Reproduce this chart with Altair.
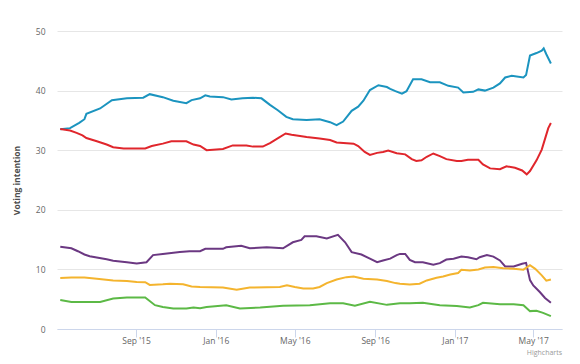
import altair as alt
import pandas as pd

con_dates = ["2015-05-08","2015-05-23","2015-06-06","2015-06-14","2015-06-17","2015-07-08","2015-07-26","2015-08-18",
             "2015-09-12","2015-09-22","2015-10-12","2015-10-28","2015-11-17","2015-11-25","2015-12-08","2015-12-16",
             "2015-12-23","2016-01-12","2016-01-25","2016-02-11","2016-02-27","2016-03-11","2016-03-24","2016-04-05",
             "2016-04-18","2016-04-28","2016-05-19","2016-06-08","2016-06-24","2016-07-04","2016-07-14","2016-07-27",
             "2016-08-06","2016-08-14","2016-08-24","2016-09-06","2016-09-19","2016-09-24","2016-10-02","2016-10-12",
             "2016-10-19","2016-10-29","2016-11-11","2016-11-24","2016-12-09","2016-12-22","2017-01-06","2017-01-14",
             "2017-01-29","2017-02-06","2017-02-16","2017-03-01","2017-03-11","2017-03-19","2017-03-29","2017-04-16",
             "2017-04-20","2017-04-26","2017-05-01","2017-05-06","2017-05-14","2017-05-17","2017-05-21","2017-05-28"]
con_values = [33.5,33.7,34.6,35.2,36.1,37.0,38.4,38.7,
              38.8,39.4,38.9,38.3,37.9,38.4,38.7,39.2,
              39.0,38.9,38.5,38.7,38.8,38.7,37.6,36.7,
              35.6,35.2,35.05,35.2,34.7,34.2,34.8,36.6,
              37.3,38.3,40.1,40.9,40.6,40.3,39.9,39.5,
              39.9,41.9,41.9,41.4,41.4,40.8,40.5,39.7,
              39.8,40.2,40.0,40.5,41.2,42.2,42.5,42.2,
              42.6,45.9,46.1,46.3,46.7,47.1,46.1,44.55]

lab_dates = ["2015-05-08","2015-05-23","2015-06-02","2015-06-11","2015-06-17","2015-07-03","2015-07-18","2015-07-28",
             "2015-08-13","2015-09-15","2015-09-25","2015-10-12","2015-10-25","2015-11-17","2015-11-28","2015-12-08",
             "2015-12-18","2016-01-12","2016-01-27","2016-02-17","2016-02-27","2016-03-13","2016-03-24","2016-04-06",
             "2016-04-17","2016-04-26","2016-05-09","2016-05-19","2016-06-08","2016-06-24","2016-07-04","2016-07-30",
             "2016-08-06","2016-08-16","2016-08-24","2016-09-04","2016-09-13","2016-09-21","2016-10-04","2016-10-17",
             "2016-10-27","2016-11-03","2016-11-11","2016-11-19","2016-11-29","2016-12-09","2016-12-19","2017-01-04",
             "2017-01-11","2017-01-21","2017-02-06","2017-02-13","2017-02-24","2017-03-11","2017-03-21","2017-04-03",
             "2017-04-14","2017-04-21","2017-04-26","2017-05-06","2017-05-14","2017-05-19","2017-05-24","2017-05-28"]
lab_values = [33.55,33.3,32.9,32.5,32.05,31.5,30.95,30.5,
              30.3,30.3,30.7,31.1,31.5,31.5,30.95,30.7,
              30.0,30.2,30.8,30.8,30.6,30.6,31.2,32.05,
              32.8,32.6,32.4,32.2,31.95,31.7,31.3,31.1,
              30.7,29.7,29.2,29.55,29.7,29.95,29.5,29.3,
              28.5,28.2,28.3,28.9,29.45,29.0,28.5,28.2,
              28.2,28.4,28.4,27.6,26.95,26.8,27.3,27.05,
              26.6,25.95,26.5,28.3,30.1,31.9,33.7,34.55]

ukip_dates = ["2015-05-08","2015-05-25","2015-06-04","2015-06-14","2015-06-22","2015-07-18","2015-07-28","2015-08-18",
              "2015-09-02","2015-09-17","2015-09-27","2015-10-12","2015-11-07","2015-11-22","2015-12-08","2015-12-16",
              "2016-01-12","2016-01-17","2016-02-09","2016-02-22","2016-03-19","2016-04-13","2016-04-28","2016-05-11",
              "2016-05-16","2016-06-03","2016-06-19","2016-07-06","2016-07-17","2016-07-27","2016-08-11","2016-08-24",
              "2016-09-04","2016-09-13","2016-09-24","2016-10-04","2016-10-09","2016-10-17","2016-10-24","2016-11-01",
              "2016-11-13","2016-11-29","2016-12-09","2016-12-19","2016-12-30","2017-01-11","2017-01-21","2017-02-03",
              "2017-02-08","2017-02-19","2017-03-01","2017-03-11","2017-03-19","2017-04-01","2017-04-14","2017-04-20",
              "2017-04-26","2017-05-01","2017-05-11","2017-05-19","2017-05-28"]
ukip_values = [13.8,13.55,13.05,12.5,12.2,11.7,11.45,11.2,
               11.0,11.2,12.4,12.6,12.9,13.05,13.05,13.45,
               13.45,13.7,13.95,13.55,13.7,13.55,14.55,14.95,
               15.55,15.55,15.2,15.8,14.55,12.9,12.5,11.8,
               11.2,11.5,11.8,12.4,12.6,12.6,11.6,11.2,
               11.2,10.8,11.05,11.65,11.8,12.15,12.05,11.7,
               12.05,12.4,12.15,11.5,10.5,10.5,10.95,11.1,
               8.2,7.3,6.2,5.2,4.4]

ld_dates = ["2015-05-08","2015-05-25","2015-06-14","2015-07-03","2015-07-28","2015-08-18","2015-09-02","2015-09-15",
            "2015-09-22","2015-10-12","2015-10-23","2015-11-12","2015-11-25","2015-12-08","2016-01-12","2016-02-02",
            "2016-02-22","2016-03-19","2016-04-08","2016-04-19","2016-05-01","2016-05-14","2016-05-29","2016-06-08",
            "2016-06-19","2016-07-04","2016-07-19","2016-07-30","2016-08-14","2016-09-04","2016-09-19","2016-10-02",
            "2016-10-09","2016-10-24","2016-11-08","2016-11-19","2016-12-04","2016-12-14","2016-12-25","2017-01-06",
            "2017-01-11","2017-01-24","2017-02-06","2017-02-16","2017-03-01","2017-03-16","2017-04-01","2017-04-16",
            "2017-04-26","2017-05-04","2017-05-14","2017-05-21","2017-05-28"]
ld_values = [8.55,8.65,8.65,8.45,8.15,8.05,7.9,7.85,
             7.4,7.5,7.6,7.5,7.15,7.05,6.95,6.6,
             6.95,7.0,7.05,7.35,7.05,6.8,6.8,7.05,
             7.7,8.3,8.7,8.8,8.45,8.3,8.05,7.7,
             7.6,7.45,7.6,8.15,8.6,8.8,9.15,9.4,
             9.95,9.8,10.0,10.3,10.4,10.2,10.1,9.95,
             10.7,10.1,9.0,8.1,8.3]

grn_dates = ["2015-05-08","2015-05-25","2015-07-08","2015-07-28","2015-08-18","2015-09-15","2015-09-30","2015-10-12",
             "2015-10-28","2015-11-17","2015-11-28","2015-12-08","2015-12-18","2016-01-17","2016-02-07","2016-03-09",
             "2016-04-13","2016-05-24","2016-06-24","2016-07-14","2016-08-01","2016-08-24","2016-09-19","2016-10-09",
             "2016-10-24","2016-11-13","2016-12-09","2017-01-04","2017-01-24","2017-02-06","2017-02-13","2017-03-11",
             "2017-04-01","2017-04-16","2017-04-26","2017-05-06","2017-05-16","2017-05-28"]
grn_values = [4.85,4.55,4.55,5.1,5.3,5.3,4.0,3.7,
              3.45,3.45,3.6,3.5,3.7,4.0,3.45,3.6,
              3.9,4.0,4.3,4.3,3.9,4.55,4.05,4.3,
              4.3,4.4,4.0,3.85,3.6,4.0,4.4,4.15,
              4.15,4.0,3.0,3.05,2.7,2.15]

parties = ["Conservative", "Labour", "UKIP", "Liberal Democrat", "Green"]
colors = ["#1b94bf", "#e0262c", "#6b3882", "#f4b42e", "#5cb946"]

frames = []
for name, ds, vs in [("Conservative", con_dates, con_values), ("Labour", lab_dates, lab_values),
                     ("UKIP", ukip_dates, ukip_values), ("Liberal Democrat", ld_dates, ld_values),
                     ("Green", grn_dates, grn_values)]:
    frames.append(pd.DataFrame({"party": name, "date": ds, "value": vs}))
df = pd.concat(frames, ignore_index=True)

tick_dates = [alt.DateTime(year=2015, month=9, date=1), alt.DateTime(year=2016, month=1, date=1),
              alt.DateTime(year=2016, month=5, date=1), alt.DateTime(year=2016, month=9, date=1),
              alt.DateTime(year=2017, month=1, date=1), alt.DateTime(year=2017, month=5, date=1)]

font = "Open Sans"

chart = alt.Chart(df).mark_line(strokeWidth=2, interpolate="linear").encode(
    x=alt.X("date:T",
            scale=alt.Scale(domain=[alt.DateTime(year=2015, month=5, date=3),
                                    alt.DateTime(year=2017, month=6, date=14)]),
            axis=alt.Axis(title=None, values=tick_dates, format="%b '%y", grid=False,
                          domainColor="#ccd6eb", tickColor="#ccd6eb", tickSize=8,
                          labelColor="#666666", labelFontSize=8.5, labelFont=font,
                          labelPadding=-1, labelFlush=False)),
    y=alt.Y("value:Q",
            scale=alt.Scale(domain=[0, 50], nice=False),
            axis=alt.Axis(title="Voting intention", values=[0, 10, 20, 30, 40, 50],
                          domain=False, ticks=False, tickSize=0, gridColor="#e6e6e6",
                          labelColor="#666666", labelFontSize=8.5, labelFont=font,
                          labelPadding=12, titleFont=font, titleFontSize=8.5,
                          titleFontWeight="bold", titleColor="#4d4d4d", titlePadding=14)),
    color=alt.Color("party:N", scale=alt.Scale(domain=parties, range=colors), legend=None),
    order=alt.Order("date:T"),
).properties(
    width=505,
    height=298,
    autosize=alt.AutoSizeParams(type="none"),
    padding={"left": 49, "top": 23, "right": 10, "bottom": 30},
    title=alt.TitleParams("Highcharts", orient="bottom", anchor="end", fontSize=7, font=font,
                          fontWeight="normal", color="#999999", offset=4),
).configure_view(stroke=None)

chart.save("out.html", embed_options={"renderer": "svg", "actions": False})
